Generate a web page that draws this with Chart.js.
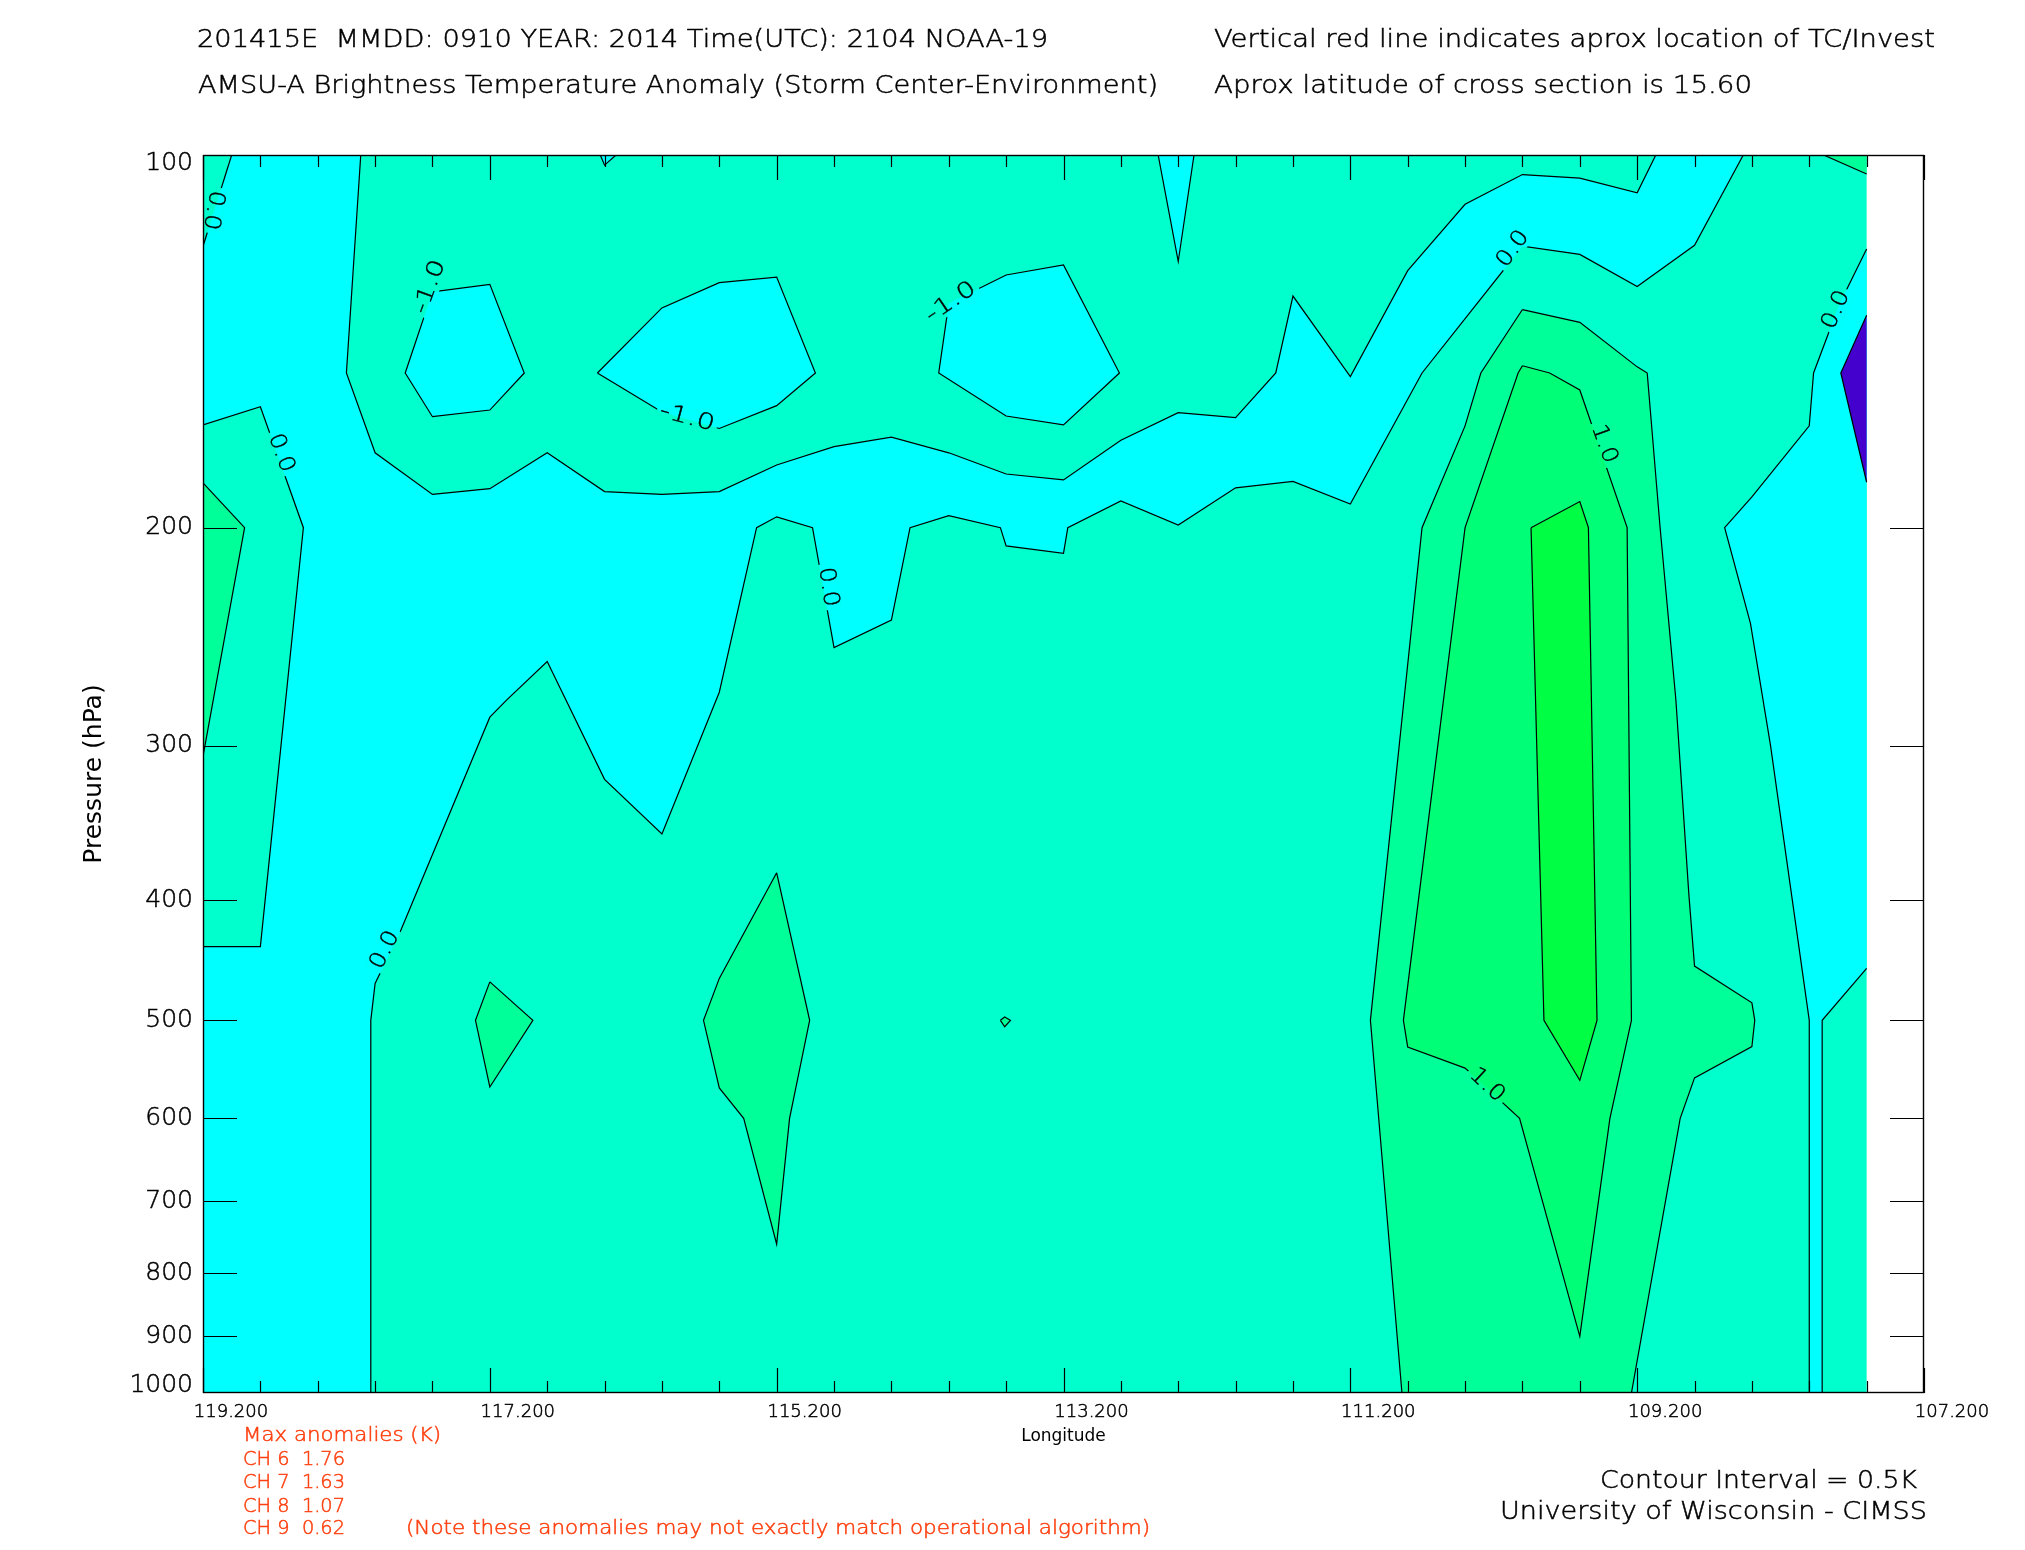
<!DOCTYPE html>
<html>
<head>
<meta charset="utf-8">
<script src="https://cdn.jsdelivr.net/npm/chart.js"></script>
<style>
html,body{margin:0;padding:0;background:#ffffff;}
#wrap{width:2025px;height:1550px;position:relative;}
canvas{display:block;}
</style>
</head>
<body>
<div id="wrap"><canvas id="c" width="2025" height="1550"></canvas></div>
<script>
// ---------------- DATA (longitude in deg E, pressure in hPa) ----------------
const lonTickLabels = [119.2, 117.2, 115.2, 113.2, 111.2, 109.2, 107.2];
const pressureTicks = [100, 200, 300, 400, 500, 600, 700, 800, 900, 1000];

const baseField = [[119.2,100],[107.6,100],[107.6,1000],[119.2,1000]];

const cyanMain = [[119.0,100],[118.1,100],[118.2,150],[118.0,174],[117.6,188],[117.2,186],[116.8,174],[116.4,187],
  [116.0,188],[115.6,187],[115.2,178],[114.8,172],[114.4,169],[114.0,174],[113.6,181],[113.2,183],[112.8,170],
  [112.4,161.5],[112.0,163],[111.72,150],[111.6,130],[111.2,151],[110.8,124],[110.4,109.6],[110.0,103.7],
  [109.6,104.4],[109.2,107.3],[109.07,100],[108.46,100],[108.8,118.3],[109.2,127.7],[109.6,120.3],[110.0,118.5],
  [110.7,150],[111.2,191.4],[111.6,183.5],[112.0,185.7],[112.4,199],[112.8,190.3],[113.17,200],[113.2,209.8],
  [113.6,206.9],[113.64,200],[114.0,195.6],[114.27,200],[114.4,237.5],[114.8,250],[114.95,200],[115.2,196],
  [115.34,200],[115.6,271.6],[116.0,353.6],[116.4,319.4],[116.8,256.5],[117.08,275.4],[117.2,284.5],
  [117.83,425.5],[118.0,466.8],[118.03,500],[118.03,1000],[119.2,1000],[119.2,436],[118.8,436],[118.5,200],
  [118.8,159.7],[119.2,165.2],[119.2,118.5]];

const cyanEast = [[107.6,119.1],[107.79,132],[107.97,150],[108.0,165.5],[108.4,188.9],[108.59,200],[108.41,239],
  [108.27,300],[108.0,500],[108.0,1000],[107.91,1000],[107.91,500],[107.6,454]];

const cyanIsle1 = [[117.6,129],[117.2,127.2],[116.96,150],[117.2,160.7],[117.6,162.7],[117.79,150]];
const cyanIsle2 = [[116.45,150],[116.0,132.9],[115.6,126.8],[115.2,125.5],[114.93,150],[115.2,159.4],[115.6,166.3],[116.0,161.3]];
const cyanIsle3 = [[114.0,131.8],[113.6,125],[113.2,122.7],[112.81,150],[113.2,165.2],[113.6,162.5],[114.07,150]];
const cyanSpike = [[112.54,100],[112.4,121.9],[112.29,100]];
const cyanNotch = [[116.43,100],[116.4,101.9],[116.32,100]];

const coldCore = [[107.6,134.7],[107.78,150],[107.6,183.8]];

const warmWestStrip = [[119.2,184],[118.91,200],[119.2,306]];
const warmDiamondA = [[117.2,465.5],[116.9,500],[117.2,566],[117.3,500]];
const warmDiamondB = [[115.2,380],[114.97,500],[115.11,600],[115.2,758],[115.43,600],[115.6,567],[115.71,500],[115.6,462.5]];
const warmDot = [[113.64,500],[113.61,497],[113.57,500],[113.61,506]];
const warmCorner = [[107.9,100],[107.6,103.6],[107.6,100]];

const warmOuter = [[110.0,133.3],[109.6,136.5],[109.2,148.3],[109.13,150],[109.04,200],[108.93,275.6],[108.84,395],
  [108.8,452],[108.4,484],[108.38,500],[108.4,525],[108.8,556.5],[108.9,600],[109.24,1000],[110.84,1000],
  [111.06,500],[110.7,200],[110.4,165.5],[110.29,150]];
const warmMiddle = [[110.0,148],[109.81,150],[109.6,154.8],[109.27,200],[109.24,500],[109.39,600],[109.6,900],
  [110.02,600],[110.4,546.5],[110.8,525.4],[110.83,500],[110.4,200],[110.03,150]];
const warmCore = [[109.94,200],[109.6,190.5],[109.54,200],[109.48,500],[109.6,559],[109.85,500]];

// contour labels: [lon, pressure, text, angle(deg)]
const contourLabels = [
  [119.13,110.8,'0.0',100],[118.656,174.1,'0.0',70],[117.617,127.8,'-1.0',-70],[115.825,163.1,'-1.0',15],
  [113.984,131.5,'-1.0',-34],[114.842,223.3,'0.0',82],[110.065,119.1,'0.0',-54],[107.813,133.4,'0.0',-66],
  [109.431,171.2,'1.0',70],[110.247,564.1,'1.0',43],[117.931,438.7,'0.0',-63]
];

const headerLeft = ['201415E  MMDD: 0910 YEAR: 2014 Time(UTC): 2104 NOAA-19',
                    'AMSU-A Brightness Temperature Anomaly (Storm Center-Environment)'];
const headerRight = ['Vertical red line indicates aprox location of TC/Invest',
                     'Aprox latitude of cross section is 15.60'];
const anomalyLines = ['Max anomalies (K)', 'CH 6  1.76', 'CH 7  1.63', 'CH 8  1.07', 'CH 9  0.62'];
const anomalyNote = '(Note these anomalies may not exactly match operational algorithm)';
const footerLines = ['Contour Interval = 0.5K', 'University of Wisconsin - CIMSS'];

// ---------------- STYLE ----------------
const FONT = "'DejaVu Sans', 'Liberation Sans', sans-serif";
const WEIGHT = '200';
const TEAL = '#00ffcc', CYAN = '#00ffff', G1 = '#00ff99', G2 = '#00ff77', G3 = '#00ff44', PURPLE = '#4400cc';
const RED = '#ff4010';
const LON_W = 119.2, LON_E = 107.6, P_TOP = 100, P_BOT = 1000;

const layers = [
  {pts: baseField, color: TEAL, stroke: false},
  {pts: cyanMain, color: CYAN},
  {pts: cyanEast, color: CYAN},
  {pts: cyanIsle1, color: CYAN},
  {pts: cyanIsle2, color: CYAN},
  {pts: cyanIsle3, color: CYAN},
  {pts: cyanSpike, color: CYAN},
  {pts: cyanNotch, color: CYAN},
  {pts: coldCore, color: PURPLE},
  {pts: warmWestStrip, color: G1},
  {pts: warmDiamondA, color: G1},
  {pts: warmDiamondB, color: G1},
  {pts: warmDot, color: G1},
  {pts: warmCorner, color: G1},
  {pts: warmOuter, color: G1},
  {pts: warmMiddle, color: G2},
  {pts: warmCore, color: G3}
];

function onEdge(a, b) {
  if (a.x === b.x && (a.x === LON_W || a.x === LON_E)) return true;
  if (a.y === b.y && (a.y === P_TOP || a.y === P_BOT)) return true;
  return false;
}

const N = layers.length;
const datasets = layers.map((L, i) => {
  const data = L.pts.concat([L.pts[0]]).map(([x, y]) => ({x, y}));
  const stroke = L.stroke !== false;
  return {
    data,
    showLine: true,
    fill: false,
    backgroundColor: L.color,
    borderColor: stroke ? '#000000' : 'rgba(0,0,0,0)',
    borderWidth: stroke ? 1.2 : 0,
    pointRadius: 0, pointHoverRadius: 0, pointHitRadius: 0,
    tension: 0,
    order: N - i,
    segment: {
      borderColor: ctx => {
        const d = ctx.chart.data.datasets[ctx.datasetIndex].data;
        return onEdge(d[ctx.p0DataIndex], d[ctx.p1DataIndex]) ? 'rgba(0,0,0,0)' : undefined;
      }
    }
  };
});

// ---------------- PLUGINS ----------------
function tracePolygon(ctx, elems) {
  ctx.beginPath();
  elems.forEach((pt, j) => j ? ctx.lineTo(pt.x, pt.y) : ctx.moveTo(pt.x, pt.y));
  ctx.closePath();
}

// fills each contour band polygon (positions from the library's point elements) before its outline is drawn
const fillPlugin = {
  id: 'polyFill',
  beforeDatasetDraw(chart, args) {
    const ctx = chart.ctx, ca = chart.chartArea;
    const ds = chart.data.datasets[args.index];
    ctx.save();
    ctx.beginPath(); ctx.rect(ca.left, ca.top, ca.right - ca.left, ca.bottom - ca.top); ctx.clip();
    ctx.fillStyle = ds.backgroundColor;
    tracePolygon(ctx, args.meta.data);
    ctx.fill();
    ctx.restore();
  }
};

const labelPlugin = {
  id: 'contourLabels',
  afterDatasetsDraw(chart) {
    const ctx = chart.ctx, xs = chart.scales.x, ys = chart.scales.y;
    ctx.save();
    ctx.font = WEIGHT + ' 22px ' + FONT;
    contourLabels.forEach(([lon, p, txt, ang]) => {
      const cx = xs.getPixelForValue(lon), cy = ys.getPixelForValue(p);
      const natural = ctx.measureText(txt).width;
      const target = txt.charAt(0) === '-' ? 56 : 40;
      const sx = target / natural;
      const w = target + 6, h = 20;
      const a = ang * Math.PI / 180, c = Math.cos(a), s = Math.sin(a);
      const corners = [[-w/2,-h/2],[w/2,-h/2],[w/2,h/2],[-w/2,h/2]].map(([u, v]) => [cx + u*c - v*s, cy + u*s + v*c]);
      ctx.save();
      const ca = chart.chartArea;
      ctx.beginPath(); ctx.rect(ca.left, ca.top, ca.right - ca.left, ca.bottom - ca.top); ctx.clip();
      ctx.beginPath();
      corners.forEach((q, k) => k ? ctx.lineTo(q[0], q[1]) : ctx.moveTo(q[0], q[1]));
      ctx.closePath(); ctx.clip();
      chart.data.datasets.forEach((ds, i) => {
        ctx.fillStyle = ds.backgroundColor;
        tracePolygon(ctx, chart.getDatasetMeta(i).data);
        ctx.fill();
      });
      ctx.restore();
      ctx.save();
      ctx.translate(cx, cy); ctx.rotate(a); ctx.scale(sx, 1);
      ctx.fillStyle = '#000'; ctx.strokeStyle = '#000'; ctx.lineWidth = 0.4;
      ctx.textAlign = 'center'; ctx.textBaseline = 'middle';
      ctx.fillText(txt, 0, 0); ctx.strokeText(txt, 0, 0);
      ctx.restore();
    });
    ctx.restore();
  }
};

function fitText(ctx, txt, x, baseline, size, targetW, align, color) {
  ctx.save();
  ctx.font = WEIGHT + ' ' + size + 'px ' + FONT;
  const w = ctx.measureText(txt).width;
  const sx = targetW / w;
  ctx.fillStyle = color; ctx.strokeStyle = color; ctx.lineWidth = 0.5;
  ctx.textAlign = 'left'; ctx.textBaseline = 'alphabetic';
  const x0 = align === 'right' ? x - targetW : x;
  ctx.translate(x0, baseline); ctx.scale(sx, 1);
  ctx.fillText(txt, 0, 0); ctx.strokeText(txt, 0, 0);
  ctx.restore();
}

const framePlugin = {
  id: 'frameTicks',
  afterDraw(chart) {
    const ctx = chart.ctx, xs = chart.scales.x, ys = chart.scales.y;
    const {left, right, top, bottom} = chart.chartArea;
    ctx.save();
    ctx.strokeStyle = '#000'; ctx.lineWidth = 1.4;
    ctx.strokeRect(left + 0.5, top + 0.5, right - left - 1, bottom - top - 1);
    ctx.lineWidth = 1.2;
    ctx.beginPath();
    for (let k = 0; k <= 30; k++) {
      const v = +(119.2 - 0.4 * k).toFixed(1);
      const major = lonTickLabels.some(t => Math.abs(t - v) < 1e-6);
      const len = major ? 25 : 12;
      const px = Math.round(xs.getPixelForValue(v)) + 0.5;
      ctx.moveTo(px, bottom); ctx.lineTo(px, bottom - len);
      ctx.moveTo(px, top); ctx.lineTo(px, top + len);
    }
    pressureTicks.forEach(p => {
      if (p === P_TOP || p === P_BOT) return;
      const py = Math.round(ys.getPixelForValue(p)) + 0.5;
      ctx.moveTo(left, py); ctx.lineTo(left + 34, py);
      ctx.moveTo(right, py); ctx.lineTo(right - 34, py);
    });
    ctx.stroke();
    ctx.restore();

    // header / footer texts
    fitText(ctx, headerLeft[0], 197, 46.7, 25, 851, 'left', '#000');
    fitText(ctx, headerLeft[1], 198, 92.7, 25, 960, 'left', '#000');
    fitText(ctx, headerRight[0], 1214, 46.7, 25, 721, 'left', '#000');
    fitText(ctx, headerRight[1], 1214, 92.7, 25, 538, 'left', '#000');
    const anomBase = [1441, 1465, 1488.3, 1511.7, 1534.3];
    const anomW = [198, 102, 102, 102, 102];
    anomalyLines.forEach((t, i) => fitText(ctx, t, 243, anomBase[i], 19, anomW[i], 'left', RED));
    fitText(ctx, anomalyNote, 406, 1534.3, 19, 744, 'left', RED);
    fitText(ctx, footerLines[0], 1917, 1488, 25, 317, 'right', '#000');
    fitText(ctx, footerLines[1], 1927, 1519, 25, 427, 'right', '#000');
  }
};

// ---------------- CHART ----------------
new Chart(document.getElementById('c'), {
  type: 'scatter',
  data: {datasets},
  options: {
    responsive: false,
    maintainAspectRatio: false,
    devicePixelRatio: 1,
    animation: false,
    events: [],
    layout: {padding: {left: 0, top: 155, right: 101, bottom: 0}},
    plugins: {legend: {display: false}, tooltip: {enabled: false}, title: {display: false}},
    elements: {point: {radius: 0}, line: {tension: 0}},
    scales: {
      x: {
        type: 'linear', reverse: true, min: 107.2, max: 119.2,
        afterBuildTicks: s => { s.ticks = lonTickLabels.map(v => ({value: v})); },
        afterFit: s => { s.height = 157; },
        grid: {display: false, drawTicks: false},
        border: {display: false},
        ticks: {padding: 9, labelOffset: 28, maxRotation: 0, minRotation: 0, autoSkip: false,
                color: '#000', textStrokeColor: '#000', textStrokeWidth: 0.5,
                font: {family: FONT, size: 18, weight: WEIGHT},
                callback: v => Number(v).toFixed(3)},
        title: {display: true, text: 'Longitude', color: '#000', font: {family: FONT, size: 17, weight: '400'},
                padding: {top: 0, bottom: 103}}
      },
      y: {
        type: 'logarithmic', reverse: true, min: 100, max: 1000,
        afterBuildTicks: s => {
          s.ticks = pressureTicks.map(v => ({value: v}));
          if (!s._nudged) {
            const proto = Object.getPrototypeOf(s);
            s.getPixelForTick = function (i) {
              const p = proto.getPixelForTick.call(this, i);
              const n = this.ticks.length;
              return i === 0 ? p + 8 : (i === n - 1 ? p - 8 : p);
            };
            s._nudged = true;
          }
        },
        afterFit: s => { s.width = 203; },
        grid: {display: false, drawTicks: false},
        border: {display: false},
        ticks: {padding: 10, autoSkip: false, color: '#000', textStrokeColor: '#000', textStrokeWidth: 0.5,
                font: {family: FONT, size: 25, weight: WEIGHT},
                callback: (v, i) => String(pressureTicks[i])},
        title: {display: true, text: 'Pressure (hPa)', color: '#000', font: {family: FONT, size: 25, weight: '400'},
                padding: {top: 79, bottom: 0}}
      }
    }
  },
  plugins: [fillPlugin, labelPlugin, framePlugin]
});
</script>
</body>
</html>
